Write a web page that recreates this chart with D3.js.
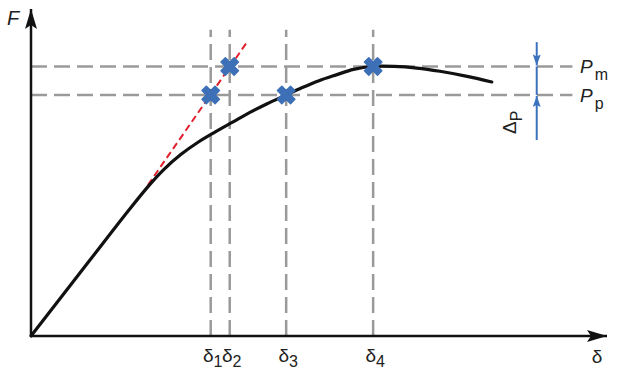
<!DOCTYPE html>
<html>
<head>
<meta charset="utf-8">
<script src="https://d3js.org/d3.v7.min.js"></script>
<style>
  body { margin: 0; background: #fff; }
  svg { display: block; }
</style>
</head>
<body>
<div id="chart"></div>
<script>
// load–displacement curve (arbitrary units, 0..100 on both axes)
const curveDelta = [0, 10, 17, 20.5, 23, 26, 29, 32, 35, 38, 41, 44.3, 47, 50, 53, 56, 59.4, 63, 67, 71, 75.5, 80];
const curveForce = [0, 22.9, 38.9, 46.5, 51.3, 56.0, 59.8, 63.0, 66.0, 69.0, 71.7, 74.4, 76.6, 78.8, 80.6, 82.3, 83.2, 83.2, 82.7, 81.7, 80.2, 78.4];

// initial stiffness line
const tangentDelta = [20.3, 37.5];
const tangentForce = [46.6, 90.7];

// characteristic displacements
const deltaNames = ["1", "2", "3", "4"];
const deltaValues = [31.2, 34.5, 44.3, 59.4];

// force levels
const levelNames = ["m", "p"];
const levelValues = [83.2, 74.4];

// marked points
const markDelta = [31.2, 34.5, 44.3, 59.4];
const markForce = [74.4, 83.2, 74.4, 83.2];

const hLineEnd = 94;
const vLineTop = 94.5;
const dpDelta = 87.8;
const dpRange = [60.5, 90.7];

const width = 618, height = 373;
const x = d3.scaleLinear().domain([0, 100]).range([31, 607]);
const y = d3.scaleLinear().domain([0, 100]).range([336, 12]);

const svg = d3.select("#chart").append("svg")
  .attr("width", width)
  .attr("height", height)
  .style("font-family", "'Liberation Sans', Arial, sans-serif");

const defs = svg.append("defs");
defs.append("marker")
  .attr("id", "axisHead")
  .attr("viewBox", "0 0 20 12")
  .attr("refX", 20).attr("refY", 6)
  .attr("markerWidth", 20).attr("markerHeight", 12)
  .attr("markerUnits", "userSpaceOnUse")
  .attr("orient", "auto")
  .append("path").attr("d", "M0,0 L20,6 L0,12 L4,6 Z").attr("fill", "#111");

defs.append("marker")
  .attr("id", "blueHead")
  .attr("viewBox", "0 0 11 8")
  .attr("refX", 11).attr("refY", 4)
  .attr("markerWidth", 11).attr("markerHeight", 8)
  .attr("markerUnits", "userSpaceOnUse")
  .attr("orient", "auto")
  .append("path").attr("d", "M0,0 L11,4 L0,8 L2,4 Z").attr("fill", "#3b72c0");

const gray = "#9a9a9a";

// dashed guide lines
svg.selectAll("line.hguide")
  .data(levelValues)
  .join("line")
  .attr("class", "hguide")
  .attr("x1", x(0)).attr("x2", x(hLineEnd))
  .attr("y1", d => y(d)).attr("y2", d => y(d))
  .attr("stroke", gray).attr("stroke-width", 2.5)
  .attr("stroke-dasharray", "16,7");

svg.selectAll("line.vguide")
  .data(deltaValues)
  .join("line")
  .attr("class", "vguide")
  .attr("x1", d => x(d)).attr("x2", d => x(d))
  .attr("y1", y(0)).attr("y2", y(vLineTop))
  .attr("stroke", gray).attr("stroke-width", 2.5)
  .attr("stroke-dasharray", "16,7");

// axes
svg.append("line")
  .attr("x1", x(0)).attr("y1", y(0))
  .attr("x2", x(100)).attr("y2", y(0))
  .attr("stroke", "#111").attr("stroke-width", 2.5)
  .attr("marker-end", "url(#axisHead)");

svg.append("line")
  .attr("x1", x(0)).attr("y1", y(0))
  .attr("x2", x(0)).attr("y2", y(100) - 3)
  .attr("stroke", "#111").attr("stroke-width", 2.5)
  .attr("marker-end", "url(#axisHead)");

// tangent line
svg.append("path")
  .datum(tangentDelta.map((d, i) => [d, tangentForce[i]]))
  .attr("d", d3.line().x(d => x(d[0])).y(d => y(d[1])))
  .attr("fill", "none")
  .attr("stroke", "#e0202c").attr("stroke-width", 2)
  .attr("stroke-dasharray", "7,4");

// curve
svg.append("path")
  .datum(curveDelta.map((d, i) => [d, curveForce[i]]))
  .attr("d", d3.line().curve(d3.curveCatmullRom.alpha(0.5)).x(d => x(d[0])).y(d => y(d[1])))
  .attr("fill", "none")
  .attr("stroke", "#111").attr("stroke-width", 3.2)
  .attr("stroke-linecap", "round");

// markers
svg.selectAll("path.mark")
  .data(markDelta.map((d, i) => [d, markForce[i]]))
  .join("path")
  .attr("class", "mark")
  .attr("d", d3.symbol().type(d3.symbolCross).size(190))
  .attr("transform", d => `translate(${x(d[0])},${y(d[1])}) rotate(45)`)
  .attr("fill", "#3d70b6")
  .attr("stroke", "#3d70b6").attr("stroke-width", 1.5)
  .attr("stroke-linejoin", "round");

// ΔP annotation
svg.append("line")
  .attr("x1", x(dpDelta)).attr("x2", x(dpDelta))
  .attr("y1", y(dpRange[1])).attr("y2", y(levelValues[0]) - 1)
  .attr("stroke", "#3b72c0").attr("stroke-width", 2)
  .attr("marker-end", "url(#blueHead)");
svg.append("line")
  .attr("x1", x(dpDelta)).attr("x2", x(dpDelta))
  .attr("y1", y(dpRange[0])).attr("y2", y(levelValues[1]) + 1)
  .attr("stroke", "#3b72c0").attr("stroke-width", 2)
  .attr("marker-end", "url(#blueHead)");
svg.append("line")
  .attr("x1", x(dpDelta)).attr("x2", x(dpDelta))
  .attr("y1", y(levelValues[0])).attr("y2", y(levelValues[1]))
  .attr("stroke", "#3b72c0").attr("stroke-width", 2);

const dpText = svg.append("text")
  .attr("transform", `translate(${x(dpDelta) - 21},${y(dpRange[0]) - 6}) rotate(-90)`)
  .style("font-size", "19px")
  .attr("fill", "#222");
dpText.append("tspan").text("Δ");
dpText.append("tspan").attr("dy", 6).style("font-size", "16px").text("P");

// level labels
levelNames.forEach((n, i) => {
  const t = svg.append("text")
    .attr("x", 580)
    .attr("y", y(levelValues[i]) + 7)
    .style("font-size", "19px")
    .attr("fill", "#222");
  t.append("tspan").style("font-style", "italic").text("P");
  t.append("tspan").attr("dx", 2).attr("dy", 7).style("font-size", "16px").text(n);
});

// delta labels
deltaNames.forEach((n, i) => {
  const t = svg.append("text")
    .attr("x", x(deltaValues[i]) + 2)
    .attr("y", 362)
    .attr("text-anchor", "middle")
    .style("font-size", "19px")
    .attr("fill", "#222");
  t.append("tspan").text("δ");
  t.append("tspan").attr("dy", 5).style("font-size", "16px").text(n);
});

// axis titles
svg.append("text")
  .attr("x", 7).attr("y", 25)
  .style("font-size", "20px")
  .style("font-style", "italic")
  .attr("fill", "#222")
  .text("F");

svg.append("text")
  .attr("x", 597).attr("y", 363)
  .attr("text-anchor", "middle")
  .style("font-size", "19px")
  .attr("fill", "#222")
  .text("δ");
</script>
</body>
</html>
